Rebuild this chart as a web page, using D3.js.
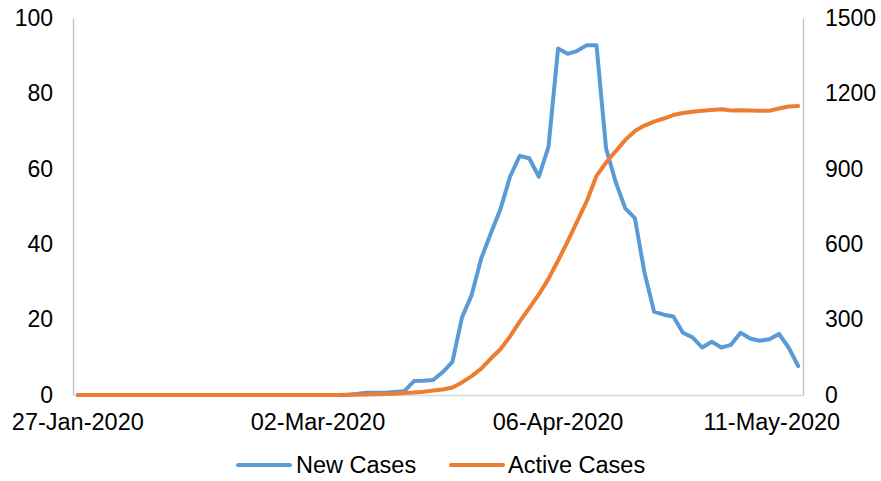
<!DOCTYPE html>
<html>
<head>
<meta charset="utf-8">
<script src="https://cdn.jsdelivr.net/npm/d3@7"></script>
<style>
  html, body { margin: 0; padding: 0; background: #fff; }
  svg { display: block; font-family: "Liberation Sans", Arial, sans-serif; }
</style>
</head>
<body>
<svg id="chart" width="881" height="481"></svg>
<script>
// ---- data ----
const xTickLabels = ["27-Jan-2020", "02-Mar-2020", "06-Apr-2020", "11-May-2020"];
const xTickIndex = [0, 25, 50, 75];
const leftTicks = [0, 20, 40, 60, 80, 100];
const rightTicks = [0, 300, 600, 900, 1200, 1500];
const seriesNames = ["New Cases", "Active Cases"];

const newCases = [
  0, 0, 0, 0, 0, 0, 0, 0, 0, 0,
  0, 0, 0, 0, 0, 0, 0, 0, 0, 0,
  0, 0, 0, 0, 0, 0, 0, 0, 0, 0.3,
  0.6, 0.6, 0.6, 0.8, 1.0, 3.7, 3.8, 4.0, 6.1, 8.8,
  20.6, 26.5, 36.2, 42.9, 49.3, 57.9, 63.4, 62.8, 57.9, 65.8,
  91.9, 90.5, 91.3, 92.8, 92.8, 65.4, 56.5, 49.5, 46.9, 32.4,
  22.1, 21.3, 20.8, 16.5, 15.3, 12.6, 14.1, 12.6, 13.3, 16.5,
  15.0, 14.4, 14.8, 16.2, 12.6, 7.7
];

const activeCases = [
  0, 0, 0, 0, 0, 0, 0, 0, 0, 0,
  0, 0, 0, 0, 0, 0, 0, 0, 0, 0,
  0, 0, 0, 0, 0, 0, 0, 0, 1, 1,
  2, 3, 4, 5, 8, 10, 13, 18, 22, 30,
  50, 75, 105, 145, 182, 233, 292, 346, 400, 462,
  535, 611, 692, 772, 872, 925, 970, 1015, 1050, 1072,
  1088, 1100, 1114, 1122, 1127, 1131, 1134, 1137, 1132, 1133,
  1132, 1131, 1131, 1140, 1148, 1150
];

// ---- layout ----
const svg = d3.select("#chart");
const plot = { left: 73, right: 803, top: 18, bottom: 395 };
const fontSize = 23;
const colors = ["#5B9BD5", "#ED7D31"];
const fontFam = "Liberation Sans, Arial, sans-serif";

const x = d3.scaleBand()
  .domain(d3.range(newCases.length))
  .range([plot.left, plot.right])
  .paddingInner(0).paddingOuter(0);
const xc = i => x(i) + x.bandwidth() / 2;

const yL = d3.scaleLinear().domain([0, 100]).range([plot.bottom, plot.top]);
const yR = d3.scaleLinear().domain([0, 1500]).range([plot.bottom, plot.top]);

// axes
const leftAxis = d3.axisLeft(yL).tickValues(leftTicks).tickFormat(d3.format("d")).tickSize(0).tickPadding(20);
const gL = svg.append("g").attr("transform", `translate(${plot.left},0)`).call(leftAxis);
gL.select(".domain").attr("stroke", "#BFBFBF").attr("stroke-width", 1.3);
gL.selectAll("text").attr("font-size", fontSize).attr("fill", "#000").attr("font-family", fontFam);

const rightAxis = d3.axisRight(yR).tickValues(rightTicks).tickFormat(d3.format("d")).tickSize(0).tickPadding(22);
const gR = svg.append("g").attr("transform", `translate(${plot.right},0)`).call(rightAxis);
gR.select(".domain").attr("stroke", "#BFBFBF").attr("stroke-width", 1.3);
gR.selectAll("text").attr("font-size", fontSize).attr("fill", "#000").attr("font-family", fontFam);

const bottomAxis = d3.axisBottom(x)
  .tickValues(xTickIndex)
  .tickFormat((d) => xTickLabels[xTickIndex.indexOf(d)])
  .tickSize(0).tickPadding(18);
const gB = svg.append("g").attr("transform", `translate(0,${plot.bottom})`).call(bottomAxis);
gB.select(".domain").attr("stroke", "#D9D9D9").attr("stroke-width", 1.3);
gB.selectAll("text").attr("font-size", 23.5).attr("fill", "#000").attr("font-family", fontFam);
// last label is pulled inside the chart edge, as in the reference
gB.selectAll(".tick").filter(d => d === xTickIndex[xTickIndex.length - 1])
  .select("text").attr("text-anchor", "end").attr("dx", 42);

// lines
const lineL = d3.line().x((d, i) => xc(i)).y(d => yL(d));
const lineR = d3.line().x((d, i) => xc(i)).y(d => yR(d));

svg.append("path").datum(newCases)
  .attr("d", lineL).attr("fill", "none")
  .attr("stroke", colors[0]).attr("stroke-width", 4)
  .attr("stroke-linejoin", "round").attr("stroke-linecap", "round");

svg.append("path").datum(activeCases)
  .attr("d", lineR).attr("fill", "none")
  .attr("stroke", colors[1]).attr("stroke-width", 4)
  .attr("stroke-linejoin", "round").attr("stroke-linecap", "round");

// legend
const legendY = 465;
const legendItems = [
  { x1: 238, x2: 290, tx: 296 },
  { x1: 451, x2: 503, tx: 508 }
];
legendItems.forEach((it, i) => {
  svg.append("line").attr("x1", it.x1).attr("x2", it.x2)
    .attr("y1", legendY).attr("y2", legendY)
    .attr("stroke", colors[i]).attr("stroke-width", 4).attr("stroke-linecap", "round");
  svg.append("text").attr("x", it.tx).attr("y", legendY).attr("dy", "0.35em")
    .attr("font-size", 23.5).attr("font-family", fontFam).attr("fill", "#000").text(seriesNames[i]);
});
</script>
</body>
</html>
